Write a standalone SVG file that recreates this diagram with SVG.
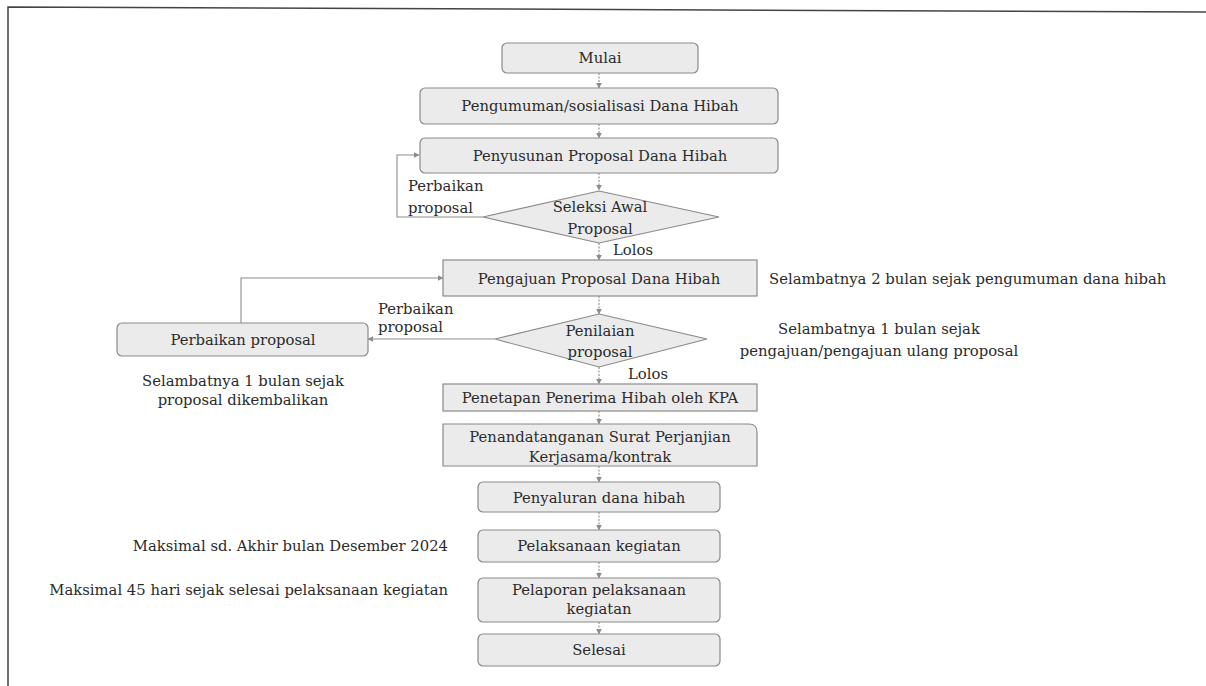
<svg xmlns="http://www.w3.org/2000/svg" width="1206" height="686" viewBox="0 0 1206 686">
<style>
.box{fill:#ebebeb;stroke:#8a8a8a;stroke-width:1.2}
.t{font-family:"DejaVu Serif","Liberation Serif",serif;font-size:14.8px;fill:#2b2b2b}
.c{text-anchor:middle}
.r{text-anchor:end}
.con{fill:none;stroke:#8c8c8c;stroke-width:1.1}
.dash{stroke-dasharray:2 1.5}
</style>
<defs>
<marker id="ah" viewBox="0 0 10 10" refX="9" refY="5" markerWidth="6" markerHeight="6" orient="auto" markerUnits="userSpaceOnUse">
<path d="M0,0 L10,5 L0,10 z" fill="#8c8c8c"/>
</marker>
</defs>
<rect width="1206" height="686" fill="#ffffff"/>
<polyline points="8,686 8,7 1206,12" fill="none" stroke="#444" stroke-width="1.5"/>

<g id="connectors">
<line class="con dash" x1="599" y1="73" x2="599" y2="88" marker-end="url(#ah)"/>
<line class="con dash" x1="599" y1="124" x2="599" y2="138" marker-end="url(#ah)"/>
<line class="con dash" x1="599" y1="173" x2="599" y2="190" marker-end="url(#ah)"/>
<line class="con dash" x1="599" y1="243" x2="599" y2="260" marker-end="url(#ah)"/>
<polyline class="con" points="483,217 397,217 397,155 419,155" marker-end="url(#ah)"/>
<line class="con dash" x1="599" y1="296" x2="599" y2="314" marker-end="url(#ah)"/>
<line class="con" x1="495" y1="339" x2="368" y2="339" marker-end="url(#ah)"/>
<polyline class="con" points="241,323 241,278 443,278" marker-end="url(#ah)"/>
<line class="con dash" x1="599" y1="367" x2="599" y2="384" marker-end="url(#ah)"/>
<line class="con dash" x1="599" y1="411" x2="599" y2="424" marker-end="url(#ah)"/>
<line class="con dash" x1="599" y1="466" x2="599" y2="482" marker-end="url(#ah)"/>
<line class="con dash" x1="599" y1="512" x2="599" y2="530" marker-end="url(#ah)"/>
<line class="con dash" x1="599" y1="562" x2="599" y2="578" marker-end="url(#ah)"/>
<line class="con dash" x1="599" y1="622" x2="599" y2="634" marker-end="url(#ah)"/>
</g>

<g id="mulai">
<rect class="box" x="502" y="43" width="196" height="30" rx="5"/>
<text class="t c" x="600" y="63">Mulai</text>
</g>
<g id="pengumuman">
<rect class="box" x="420" y="88" width="358" height="36" rx="5"/>
<text class="t c" x="600" y="111">Pengumuman/sosialisasi Dana Hibah</text>
</g>
<g id="penyusunan">
<rect class="box" x="420" y="138" width="358" height="35" rx="5"/>
<text class="t c" x="600" y="161">Penyusunan Proposal Dana Hibah</text>
</g>
<g id="seleksi">
<polygon class="box" points="599,191 719,217 599,243 483,217"/>
<text class="t c" x="600" y="212">Seleksi Awal</text>
<text class="t c" x="600" y="234">Proposal</text>
</g>
<text class="t" x="408" y="191">Perbaikan</text>
<text class="t" x="408" y="213">proposal</text>
<text class="t" x="613" y="255">Lolos</text>

<g id="pengajuan">
<rect class="box" x="443" y="260" width="314" height="36"/>
<text class="t c" x="599" y="284">Pengajuan Proposal Dana Hibah</text>
</g>
<text class="t" x="769" y="284">Selambatnya 2 bulan sejak pengumuman dana hibah</text>

<g id="penilaian">
<polygon class="box" points="599,314 707,339 599,367 495,339"/>
<text class="t c" x="600" y="336">Penilaian</text>
<text class="t c" x="600" y="357">proposal</text>
</g>
<text class="t" x="378" y="314">Perbaikan</text>
<text class="t" x="378" y="332">proposal</text>
<text class="t c" x="879" y="334">Selambatnya 1 bulan sejak</text>
<text class="t c" x="879" y="356">pengajuan/pengajuan ulang proposal</text>
<text class="t" x="628" y="379">Lolos</text>

<g id="perbaikan">
<rect class="box" x="117" y="323" width="251" height="33" rx="5"/>
<text class="t c" x="243" y="345">Perbaikan proposal</text>
</g>
<text class="t c" x="243" y="386">Selambatnya 1 bulan sejak</text>
<text class="t c" x="243" y="405">proposal dikembalikan</text>

<g id="penetapan">
<rect class="box" x="443" y="384" width="314" height="27"/>
<text class="t c" x="600" y="403">Penetapan Penerima Hibah oleh KPA</text>
</g>
<g id="penandatanganan">
<path class="box" d="M443,424 H749 Q757,424 757,432 V466 H443 Z"/>
<text class="t c" x="600" y="442">Penandatanganan Surat Perjanjian</text>
<text class="t c" x="600" y="462">Kerjasama/kontrak</text>
</g>
<g id="penyaluran">
<rect class="box" x="478" y="482" width="242" height="30" rx="5"/>
<text class="t c" x="599" y="503">Penyaluran dana hibah</text>
</g>
<g id="pelaksanaan">
<rect class="box" x="478" y="530" width="242" height="32" rx="5"/>
<text class="t c" x="599" y="551">Pelaksanaan kegiatan</text>
</g>
<text class="t r" x="448" y="551">Maksimal sd. Akhir bulan Desember 2024</text>
<g id="pelaporan">
<rect class="box" x="478" y="578" width="242" height="44" rx="5"/>
<text class="t c" x="599" y="595">Pelaporan pelaksanaan</text>
<text class="t c" x="599" y="614">kegiatan</text>
</g>
<text class="t r" x="448" y="595">Maksimal 45 hari sejak selesai pelaksanaan kegiatan</text>
<g id="selesai">
<rect class="box" x="478" y="634" width="242" height="32" rx="5"/>
<text class="t c" x="599" y="655">Selesai</text>
</g>
</svg>
